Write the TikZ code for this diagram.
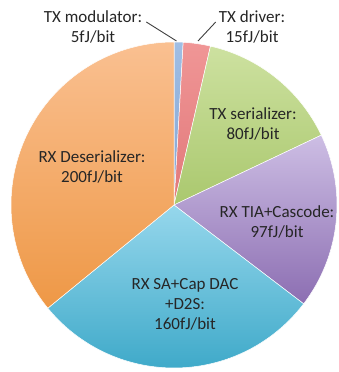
\documentclass[tikz,border=0pt]{standalone}
\usepackage{fontspec}
\setmainfont{Carlito}
\usepackage{tikz}
\usetikzlibrary{calc,positioning}

\definecolor{modtop}{RGB}{160,190,228}
\definecolor{modbot}{RGB}{130,165,212}
\definecolor{drvtop}{RGB}{240,150,150}
\definecolor{drvbot}{RGB}{225,120,122}
\definecolor{sertop}{RGB}{205,225,160}
\definecolor{serbot}{RGB}{170,200,110}
\definecolor{tiatop}{RGB}{205,190,228}
\definecolor{tiabot}{RGB}{140,110,178}
\definecolor{satop}{RGB}{150,215,236}
\definecolor{sabot}{RGB}{60,168,200}
\definecolor{destop}{RGB}{250,192,145}
\definecolor{desbot}{RGB}{238,152,70}
\definecolor{labeltext}{RGB}{38,38,38}

\tikzset{
    slice/.style={
        draw=white,
        line width=0.5pt,
        line join=round
    },
    lbl/.style={
        align=center,
        inner sep=1pt,
        text=labeltext,
        font=\fontsize{17}{20}\selectfont
    },
    leader/.style={draw=black!75, line width=0.9pt}
}

\begin{document}
\begin{tikzpicture}[x=1pt,y=1pt]
    \useasboundingbox[fill=white] (0,0) rectangle (339,372);
    \coordinate (c) at (174,167);

    % slices, clockwise from the top (5, 15, 80, 97, 160, 200 fJ/bit)
    \path[slice, top color=modtop, bottom color=modbot]
        (c) -- ++(90:163) arc[start angle=90, end angle=86.77, radius=163] -- cycle;
    \path[slice, top color=drvtop, bottom color=drvbot]
        (c) -- ++(86.77:163) arc[start angle=86.77, end angle=77.08, radius=163] -- cycle;
    \path[slice, top color=sertop, bottom color=serbot]
        (c) -- ++(77.08:163) arc[start angle=77.08, end angle=25.37, radius=163] -- cycle;
    \path[slice, top color=tiatop, bottom color=tiabot]
        (c) -- ++(25.37:163) arc[start angle=25.37, end angle=-37.32, radius=163] -- cycle;
    \path[slice, top color=satop, bottom color=sabot]
        (c) -- ++(-37.32:163) arc[start angle=-37.32, end angle=-140.73, radius=163] -- cycle;
    \path[slice, top color=destop, bottom color=desbot]
        (c) -- ++(-140.73:163) arc[start angle=-140.73, end angle=-270, radius=163] -- cycle;

    % labels
    \node[lbl] (mod) at (93,345) {TX modulator:\\5fJ/bit};
    \node[lbl] (drv) at (252,345) {TX driver:\\15fJ/bit};
    \node[lbl] (ser) at (253,248) {TX serializer:\\80fJ/bit};
    \node[lbl] (tia) at (277,150) {RX TIA+Cascode:\\97fJ/bit};
    \node[lbl] (sa) at (185,68) {RX SA+Cap DAC\\+D2S:\\160fJ/bit};
    \node[lbl] (des) at (92,205) {RX Deserializer:\\200fJ/bit};

    % leader lines for the two thin slices
    \coordinate (modtip) at (176.5,331);
    \coordinate (drvtip) at (198,331);
    \draw[leader] ([shift={(3,5)}]mod.east) -- (modtip);
    \draw[leader] ([shift={(-2,5)}]drv.west) -- (drvtip);
\end{tikzpicture}
\end{document}
